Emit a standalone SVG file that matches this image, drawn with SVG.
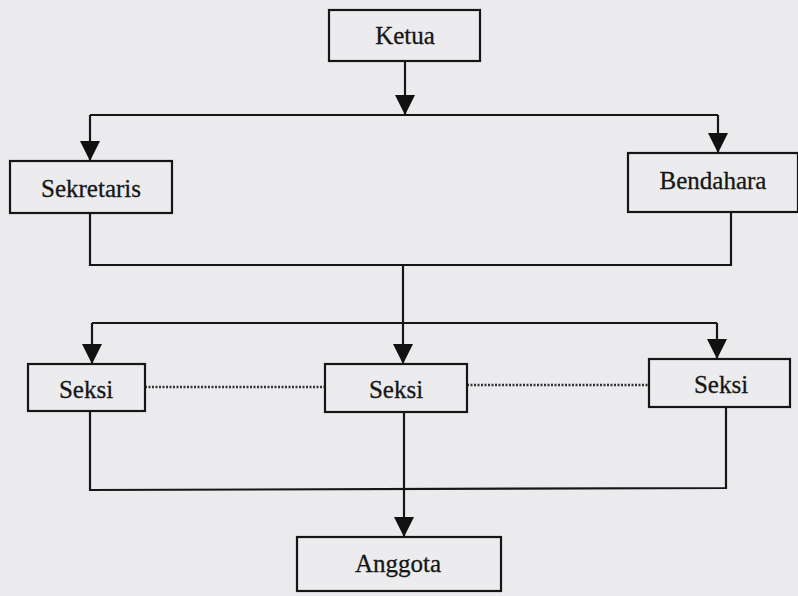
<svg xmlns="http://www.w3.org/2000/svg" width="798" height="596" viewBox="0 0 798 596">
<defs>
<marker id="ah" markerUnits="userSpaceOnUse" markerWidth="21" markerHeight="20" refX="20" refY="10" orient="auto">
<path d="M0,0 L20,10 L0,20 z" fill="#111"/>
</marker>
<style>
.box{fill:#ececef;stroke:#161616;stroke-width:2.2}
.t{font-family:"Liberation Serif","Times New Roman",serif;font-size:25px;fill:#161616;stroke:#161616;stroke-width:0.3;text-anchor:middle}
.ln{fill:none;stroke:#161616;stroke-width:2.2}
.ar{fill:none;stroke:#161616;stroke-width:2.2;marker-end:url(#ah)}
.dot{fill:none;stroke:#333;stroke-width:2.5;stroke-dasharray:2 1.5}
</style>
</defs>
<rect width="798" height="596" fill="#ebebee"/>
<g id="connectors">
<path class="ar" d="M405,61 L405,115"/>
<path class="ln" d="M90,115 L718,115"/>
<path class="ar" d="M90,115 L90,161"/>
<path class="ar" d="M718,115 L718,153"/>
<path class="ln" d="M90,213 L90,265 L731,265 L731,212"/>
<path class="ar" d="M403,265 L403,364"/>
<path class="ln" d="M92,323 L717,323"/>
<path class="ar" d="M92,323 L92,364"/>
<path class="ar" d="M717,323 L717,359"/>
<path class="dot" d="M145,387 L325,387"/>
<path class="dot" d="M467,385 L649,385"/>
<path class="ln" d="M90,411 L90,490 L726,488 L726,407"/>
<path class="ar" d="M404,412 L404,537"/>
</g>
<g id="ketua"><rect class="box" x="329" y="10" width="151" height="51"/><text class="t" x="405" y="44">Ketua</text></g>
<g id="sekretaris"><rect class="box" x="10" y="161" width="162" height="52"/><text class="t" x="91" y="197">Sekretaris</text></g>
<g id="bendahara"><rect class="box" x="628" y="153" width="170" height="59"/><text class="t" x="713" y="189">Bendahara</text></g>
<g id="seksi1"><rect class="box" x="28" y="364" width="117" height="47"/><text class="t" x="86" y="398">Seksi</text></g>
<g id="seksi2"><rect class="box" x="325" y="364" width="142" height="48"/><text class="t" x="396" y="398">Seksi</text></g>
<g id="seksi3"><rect class="box" x="649" y="359" width="141" height="48"/><text class="t" x="721" y="393">Seksi</text></g>
<g id="anggota"><rect class="box" x="297" y="537" width="204" height="54"/><text class="t" x="398" y="572">Anggota</text></g>
</svg>
